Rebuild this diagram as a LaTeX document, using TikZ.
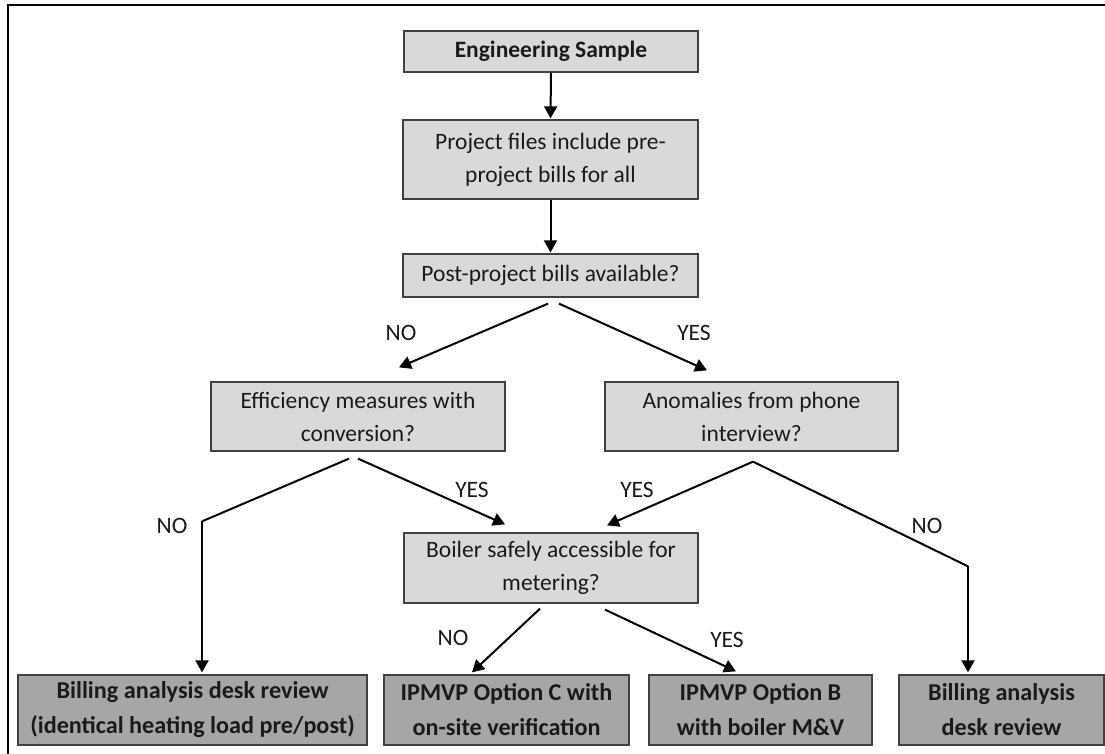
\documentclass[tikz,border=0pt]{standalone}
\usepackage{fontspec}
\setmainfont{Carlito}
\usetikzlibrary{arrows.meta,calc}
\definecolor{lightbox}{HTML}{D9D9D9}
\definecolor{darkbox}{HTML}{A6A6A6}
\definecolor{boxline}{HTML}{404040}
\definecolor{txt}{HTML}{1A1A1A}
\begin{document}
\begin{tikzpicture}[x=1pt,y=-1pt,
  box/.style={draw=boxline, line width=1.3pt, fill=lightbox, inner sep=0pt, align=center,
    font=\fontsize{23.5}{33}\selectfont, text=txt},
  endbox/.style={box, fill=darkbox, font=\fontsize{24.2}{35}\selectfont\bfseries},
  conn/.style={line width=2pt, black},
  arr/.style={conn, -{Triangle[length=12pt,width=13pt]}},
  lbl/.style={font=\fontsize{23.5}{28}\selectfont, inner sep=0pt, text=txt}]
\useasboundingbox (0,0) rectangle (1105,754);
\fill[white] (0,0) rectangle (1105,754);
\draw[line width=2.6pt] (1105,5) -- (8,5) -- (8,754);

% boxes
\node[box, minimum width=294pt, minimum height=41pt, font=\fontsize{23.5}{33}\selectfont\bfseries] (eng) at (551,51.5) {Engineering Sample};
\node[box, minimum width=295pt, minimum height=79pt] (proj) at (550.5,159.5) {Project files include pre-\\project bills for all};
\node[box, minimum width=295pt, minimum height=43pt] (post) at (550.5,275.5) {Post-project bills available?};
\node[box, minimum width=294pt, minimum height=69pt] (eff) at (358,416.5) {Efficiency measures with\\conversion?};
\node[box, minimum width=293pt, minimum height=69pt] (anom) at (751.5,416.5) {Anomalies from phone\\interview?};
\node[box, minimum width=294pt, minimum height=70pt] (boil) at (551,568) {Boiler safely accessible for\\metering?};
\node[endbox, minimum width=349pt, minimum height=70pt] (b1) at (192.5,710) {Billing analysis desk review\\(identical heating load pre/post)};
\node[endbox, minimum width=245pt, minimum height=70pt] (b2) at (506.5,710) {IPMVP Option C with\\on-site verification};
\node[endbox, minimum width=223pt, minimum height=70pt] (b3) at (760.5,710) {IPMVP Option B\\with boiler M\&V};
\node[endbox, minimum width=205pt, minimum height=70pt] (b4) at (1001.5,710) {Billing analysis\\desk review};

% connector points
\coordinate (pS1) at ($(post.south)+(-2.5,6)$);
\coordinate (pS2) at ($(post.south)+(8.5,6)$);
\coordinate (eS1) at ($(eff.south)+(-9,7)$);
\coordinate (eS2) at ($(eff.south)+(0,7)$);
\coordinate (eC) at ($(b1.north)+(9.5,-153)$);
\coordinate (aS) at ($(anom.south)+(1.5,10)$);
\coordinate (aC) at ($(b4.north)+(-33.5,-108)$);
\coordinate (bS1) at ($(boil.south)+(-11,5)$);
\coordinate (bS2) at ($(boil.south)+(54,6)$);

% connectors
\draw[arr] (eng.south) -- ($(proj.north)+(0,-1)$);
\draw[arr] (proj.south) -- ($(post.north)+(0,-1)$);
\draw[arr] (pS1) -- ($(eff.north)+(41,-14)$);
\draw[arr] (pS2) -- ($(anom.north)+(-44.5,-11)$);
\draw[conn] (eS1) -- (eC);
\draw[arr] (eC) -- ($(b1.north)+(9.5,-2)$);
\draw[arr] (eS2) -- ($(boil.north)+(-46,-8)$);
\draw[arr] (aS) -- ($(boil.north)+(56,-7)$);
\draw[conn] (aS) -- (aC);
\draw[arr] (aC) -- ($(b4.north)+(-33.5,-2)$);
\draw[arr] (bS1) -- ($(b2.north)+(-34.5,-2)$);
\draw[arr] (bS2) -- ($(b3.north)+(-24.5,-3)$);

% labels
\node[lbl] (l1) at (401,333) {NO};
\node[lbl] (l2) at (694,333) {YES};
\node[lbl] (l3) at (172,526) {NO};
\node[lbl] (l4) at (472,490) {YES};
\node[lbl] (l5) at (637,490) {YES};
\node[lbl] (l6) at (927,526) {NO};
\node[lbl] (l7) at (453,638) {NO};
\node[lbl] (l8) at (727,640) {YES};
\end{tikzpicture}
\end{document}
